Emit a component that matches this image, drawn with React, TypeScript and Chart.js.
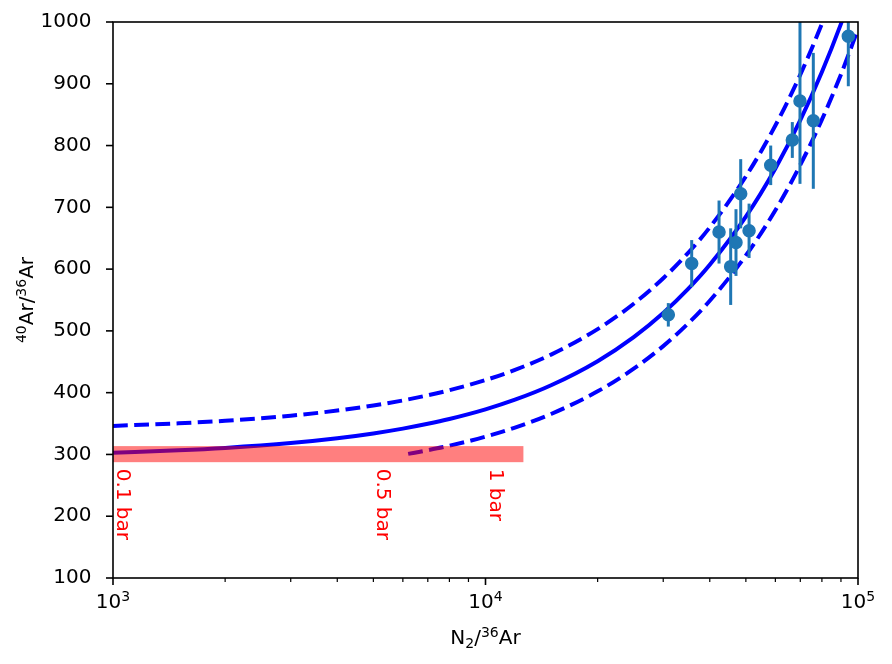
import React, { useEffect, useRef } from "react";
import { Chart, registerables } from "chart.js";

Chart.register(...registerables);

// Fitted mixing line and its bounds (N2/36Ar vs 40Ar/36Ar)
const fitN2 = [1000, 1500, 2000, 3000, 4000, 5000, 6000, 7000, 8000, 10000, 12000, 15000, 20000, 25000, 30000, 35000, 40000, 50000, 60000, 70000, 80000, 90000, 100000];
const fitAr = [302.8, 306.7, 310.6, 318.4, 326.2, 334, 341.8, 349.6, 357.4, 373, 388.6, 412, 451, 490, 529, 568, 607, 685, 763, 841, 919, 997, 1075];
const upperAr = [346.2, 350.4, 354.5, 362.7, 371, 379.2, 387.4, 395.7, 403.9, 420.4, 436.9, 461.6, 502.8, 544, 585.2, 626.4, 667.6, 750, 832.4, 914.8, 997.2, 1079.6, 1162];
const lowerN2 = [6200, 7000, 8000, 10000, 12000, 15000, 20000, 25000, 30000, 35000, 40000, 50000, 60000, 70000, 80000, 90000, 100000];
const lowerAr = [300.9, 306.8, 314.1, 328.8, 343.5, 365.5, 402.1, 438.8, 475.4, 512.1, 548.7, 622, 695.3, 768.6, 841.9, 915.2, 988.5];

// Measured samples with 1-sigma uncertainties on 40Ar/36Ar
const sampleN2 = [30960, 35770, 42360, 45520, 47040, 48430, 51000, 58300, 66630, 69860, 75860, 94190];
const sampleAr = [526, 609, 660, 604, 643, 722, 662, 768, 809, 872, 840, 977];
const sampleErr = [19, 38, 51, 62, 54, 56, 44, 32, 29, 134, 110, 81];

// Atmospheric band and pressure markers
const bandN2 = [1000, 12640];
const bandAr = [287.5, 313.5];
const pressureLabels = ["0.1 bar", "0.5 bar", "1 bar"];
const pressureN2 = [1000, 5000, 10000];
const pressureLabelAr = 277;

// Axis ticks
const yTicks = [100, 200, 300, 400, 500, 600, 700, 800, 900, 1000];
const xMajorTicks = [1000, 10000, 100000];
const xMajorExponents = ["3", "4", "5"];
const xMinorTicks = [2000, 3000, 4000, 5000, 6000, 7000, 8000, 9000, 20000, 30000, 40000, 50000, 60000, 70000, 80000, 90000];

// Axis titles as (text, font size, baseline rise) pieces
type Part = { t: string; size: number; rise: number };
const xTitle: Part[] = [
  { t: "N", size: 20, rise: 0 },
  { t: "2", size: 14, rise: -3.6 },
  { t: "/", size: 20, rise: 0 },
  { t: "36", size: 14, rise: 7.3 },
  { t: "Ar", size: 20, rise: 0 },
];
const yTitle: Part[] = [
  { t: "40", size: 14, rise: 7.3 },
  { t: "Ar/", size: 20, rise: 0 },
  { t: "36", size: 14, rise: 7.3 },
  { t: "Ar", size: 20, rise: 0 },
];

const FAMILY = '"DejaVu Sans", sans-serif';
const font = (s: number) => `${s}px ${FAMILY}`;
const LINE_BLUE = "#0000ff";
const SAMPLE_BLUE = "#1f77b4";
const SAMPLE_INDEX = 0;

function richWidth(ctx: CanvasRenderingContext2D, parts: Part[]) {
  let w = 0;
  for (const p of parts) {
    ctx.font = font(p.size);
    w += ctx.measureText(p.t).width;
  }
  return w;
}

function drawRich(ctx: CanvasRenderingContext2D, parts: Part[], x: number, y: number) {
  let cx = x;
  ctx.textAlign = "left";
  ctx.textBaseline = "alphabetic";
  for (const p of parts) {
    ctx.font = font(p.size);
    ctx.fillText(p.t, cx, y - p.rise);
    cx += ctx.measureText(p.t).width;
  }
}

const errorBarPlugin = {
  id: "errorBars",
  beforeDatasetDraw(chart: any, args: any) {
    if (args.index !== SAMPLE_INDEX) return;
    const { ctx, chartArea, scales } = chart;
    const x = scales.x;
    const y = scales.y;
    ctx.save();
    ctx.beginPath();
    ctx.rect(chartArea.left, chartArea.top, chartArea.right - chartArea.left, chartArea.bottom - chartArea.top);
    ctx.clip();
    ctx.strokeStyle = SAMPLE_BLUE;
    ctx.lineWidth = 3;
    ctx.lineCap = "butt";
    sampleN2.forEach((n, i) => {
      const px = x.getPixelForValue(n);
      ctx.beginPath();
      ctx.moveTo(px, y.getPixelForValue(sampleAr[i] - sampleErr[i]));
      ctx.lineTo(px, y.getPixelForValue(sampleAr[i] + sampleErr[i]));
      ctx.stroke();
    });
    ctx.restore();
  },
};

const overlayPlugin = {
  id: "overlay",
  afterDatasetsDraw(chart: any) {
    const { ctx, chartArea, scales } = chart;
    const x = scales.x;
    const y = scales.y;
    ctx.save();
    ctx.beginPath();
    ctx.rect(chartArea.left, chartArea.top, chartArea.right - chartArea.left, chartArea.bottom - chartArea.top);
    ctx.clip();
    // translucent atmospheric band over the curves
    const x0 = x.getPixelForValue(bandN2[0]);
    const x1 = x.getPixelForValue(bandN2[1]);
    const yTop = y.getPixelForValue(bandAr[1]);
    const yBot = y.getPixelForValue(bandAr[0]);
    ctx.fillStyle = "rgba(255,0,0,0.5)";
    ctx.fillRect(x0, yTop, x1 - x0, yBot - yTop);
    ctx.restore();

    // rotated pressure labels
    ctx.save();
    ctx.fillStyle = "#ff0000";
    ctx.font = font(20);
    ctx.textAlign = "left";
    ctx.textBaseline = "alphabetic";
    pressureLabels.forEach((label, i) => {
      const px = x.getPixelForValue(pressureN2[i]);
      const py = y.getPixelForValue(pressureLabelAr);
      ctx.save();
      ctx.translate(px + 4, py);
      ctx.rotate(Math.PI / 2);
      ctx.fillText(label, 0, 0);
      ctx.restore();
    });
    ctx.restore();
  },
  afterDraw(chart: any) {
    const { ctx, chartArea, scales } = chart;
    const x = scales.x;
    const y = scales.y;
    const { left, right, top, bottom } = chartArea;
    ctx.save();
    ctx.strokeStyle = "#000";
    ctx.fillStyle = "#000";

    // tick marks
    ctx.lineWidth = 1.6;
    for (const v of yTicks) {
      const py = y.getPixelForValue(v);
      ctx.beginPath();
      ctx.moveTo(left - 7, py);
      ctx.lineTo(left, py);
      ctx.stroke();
    }
    for (const v of xMajorTicks) {
      const px = x.getPixelForValue(v);
      ctx.beginPath();
      ctx.moveTo(px, bottom);
      ctx.lineTo(px, bottom + 7);
      ctx.stroke();
    }
    ctx.lineWidth = 1.2;
    for (const v of xMinorTicks) {
      const px = x.getPixelForValue(v);
      ctx.beginPath();
      ctx.moveTo(px, bottom);
      ctx.lineTo(px, bottom + 4);
      ctx.stroke();
    }

    // frame
    ctx.lineWidth = 1.6;
    ctx.strokeRect(left, top, right - left, bottom - top);

    // x tick labels 10^n
    xMajorTicks.forEach((v, i) => {
      const parts: Part[] = [
        { t: "10", size: 20, rise: 0 },
        { t: xMajorExponents[i], size: 14, rise: 7.3 },
      ];
      const w = richWidth(ctx, parts);
      drawRich(ctx, parts, x.getPixelForValue(v) - w / 2, bottom + 30);
    });

    // x title
    const wx = richWidth(ctx, xTitle);
    drawRich(ctx, xTitle, (left + right) / 2 - wx / 2, bottom + 66);

    // y title
    const wy = richWidth(ctx, yTitle);
    ctx.save();
    ctx.translate(33, (top + bottom) / 2);
    ctx.rotate(-Math.PI / 2);
    drawRich(ctx, yTitle, -wy / 2, 0);
    ctx.restore();

    ctx.restore();
  },
};

export default function App() {
  const canvasRef = useRef<HTMLCanvasElement | null>(null);

  useEffect(() => {
    const canvas = canvasRef.current;
    if (!canvas) return;
    const chart = new Chart(canvas, {
      type: "line",
      data: {
        datasets: [
          {
            type: "scatter",
            label: "samples",
            data: sampleN2.map((n, i) => ({ x: n, y: sampleAr[i] })),
            backgroundColor: SAMPLE_BLUE,
            borderColor: SAMPLE_BLUE,
            pointRadius: 6,
            pointBorderWidth: 1.5,
            order: 0,
          } as any,
          {
            label: "fit",
            data: fitN2.map((n, i) => ({ x: n, y: fitAr[i] })),
            borderColor: LINE_BLUE,
            borderWidth: 4,
            pointRadius: 0,
            fill: false,
            cubicInterpolationMode: "monotone",
            order: 1,
          },
          {
            label: "upper",
            data: fitN2.map((n, i) => ({ x: n, y: upperAr[i] })),
            borderColor: LINE_BLUE,
            borderWidth: 4,
            borderDash: [14.8, 6.4],
            borderCapStyle: "butt",
            pointRadius: 0,
            fill: false,
            cubicInterpolationMode: "monotone",
            order: 1,
          },
          {
            label: "lower",
            data: lowerN2.map((n, i) => ({ x: n, y: lowerAr[i] })),
            borderColor: LINE_BLUE,
            borderWidth: 4,
            borderDash: [14.8, 6.4],
            borderCapStyle: "butt",
            pointRadius: 0,
            fill: false,
            cubicInterpolationMode: "monotone",
            order: 1,
          },
        ],
      },
      options: {
        responsive: false,
        animation: false,
        layout: { autoPadding: false, padding: { top: 22, right: 34, left: 0, bottom: 0 } },
        plugins: {
          legend: { display: false },
          tooltip: { enabled: false },
        },
        scales: {
          x: {
            type: "logarithmic",
            min: 1000,
            max: 100000,
            ticks: { display: false },
            grid: { display: false },
            border: { display: false },
            afterFit: (s: any) => {
              s.height = 86;
              s.paddingLeft = 0;
              s.paddingRight = 0;
            },
          },
          y: {
            type: "linear",
            min: 100,
            max: 1000,
            ticks: {
              stepSize: 100,
              color: "#000",
              padding: 13.5,
              font: { family: FAMILY, size: 20 },
              callback: (v: any) => String(v),
            },
            grid: { display: false },
            border: { display: false },
            afterFit: (s: any) => {
              s.width = 113;
              s.paddingTop = 0;
              s.paddingBottom = 0;
            },
          },
        },
      } as any,
      plugins: [errorBarPlugin, overlayPlugin],
    });
    return () => chart.destroy();
  }, []);

  return (
    <div style={{ position: "fixed", left: 0, top: 0, width: 892, height: 664, background: "#fff" }}>
      <canvas ref={canvasRef} width={892} height={664} />
    </div>
  );
}
